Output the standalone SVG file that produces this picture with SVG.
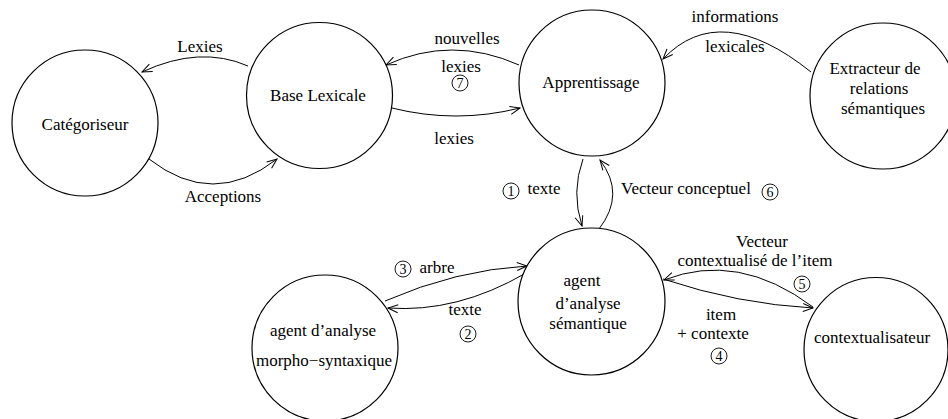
<svg xmlns="http://www.w3.org/2000/svg" width="948" height="419" viewBox="0 0 948 419">
<style>
.n{fill:#fff;stroke:#000;stroke-width:1.2}
.t{font-family:"Liberation Serif","Times New Roman",serif;font-size:17px;fill:#000;text-anchor:middle}
.c{fill:none;stroke:#000;stroke-width:1}
.k{fill:none;stroke:#000;stroke-width:0.9}
.d{font-family:"Liberation Serif","Times New Roman",serif;font-size:14px;fill:#000;text-anchor:middle}
</style>
<defs>
<marker id="a" markerUnits="userSpaceOnUse" markerWidth="14" markerHeight="12" refX="12" refY="6" orient="auto" overflow="visible">
<path d="M2,2 L12,6 L2,10" fill="none" stroke="#000" stroke-width="1"/>
</marker>
</defs>
<rect width="948" height="419" fill="#fff"/>
<g id="connectors">
<path class="c" d="M248,66 Q200,45 142,72" marker-end="url(#a)"/>
<path class="c" d="M149,159 Q213,209 277,159" marker-end="url(#a)"/>
<path class="c" d="M519,65 Q452,35 386,65" marker-end="url(#a)"/>
<path class="c" d="M392,108 Q456,124 520,108" marker-end="url(#a)"/>
<path class="c" d="M811,72 Q720,-1 663,59" marker-end="url(#a)"/>
<path class="c" d="M583,159 Q571,192 582,226" marker-end="url(#a)"/>
<path class="c" d="M599,229 Q626,194 600,160" marker-end="url(#a)"/>
<path class="c" d="M385,301 Q456,270 527,266" marker-end="url(#a)"/>
<path class="c" d="M526,273 Q457,313 388,308" marker-end="url(#a)"/>
<path class="c" d="M663,279 Q738,304 813,308" marker-end="url(#a)"/>
<path class="c" d="M813,307 Q738,251 664,280" marker-end="url(#a)"/>
<text class="t" x="200" y="52">Lexies</text>
<text class="t" x="223" y="202">Acceptions</text>
<text class="t" x="467" y="44">nouvelles</text>
<text class="t" x="461" y="72">lexies</text>
<circle class="k" cx="460" cy="83" r="8"/><text class="d" x="460" y="88">7</text>
<text class="t" x="454" y="144">lexies</text>
<text class="t" x="735" y="22">informations</text>
<text class="t" x="735" y="52">lexicales</text>
<circle class="k" cx="511" cy="191" r="8"/><text class="d" x="511" y="196">1</text>
<text class="t" x="544" y="194">texte</text>
<text class="t" x="686" y="194">Vecteur conceptuel</text>
<circle class="k" cx="770" cy="192" r="8"/><text class="d" x="770" y="197">6</text>
<circle class="k" cx="403" cy="269" r="8"/><text class="d" x="403" y="274">3</text>
<text class="t" x="437" y="273">arbre</text>
<text class="t" x="465" y="315">texte</text>
<circle class="k" cx="468" cy="334" r="8"/><text class="d" x="468" y="339">2</text>
<text class="t" x="762" y="247">Vecteur</text>
<text class="t" x="755" y="266">contextualisé de l’item</text>
<circle class="k" cx="802" cy="284" r="8"/><text class="d" x="802" y="289">5</text>
<text class="t" x="721" y="320">item</text>
<text class="t" x="713" y="339">+ contexte</text>
<circle class="k" cx="719" cy="356" r="8"/><text class="d" x="719" y="361">4</text>
</g>
<g id="categoriseur"><circle class="n" cx="85" cy="123" r="73"/><text class="t" x="85" y="130">Catégoriseur</text></g>
<g id="base-lexicale"><circle class="n" cx="319.5" cy="95.5" r="73"/><text class="t" x="318" y="101">Base Lexicale</text></g>
<g id="apprentissage"><circle class="n" cx="592" cy="83" r="73"/><text class="t" x="591" y="88">Apprentissage</text></g>
<g id="extracteur"><circle class="n" cx="883" cy="96" r="73"/><text class="t" x="875" y="74">Extracteur de</text><text class="t" x="879" y="94">relations</text><text class="t" x="883" y="114">sémantiques</text></g>
<g id="agent-semantique"><circle class="n" cx="591.5" cy="301.5" r="73.5"/><text class="t" x="582" y="286">agent</text><text class="t" x="588" y="309">d’analyse</text><text class="t" x="588" y="329">sémantique</text></g>
<g id="agent-morpho"><circle class="n" cx="325" cy="348" r="73"/><text class="t" x="323" y="336">agent d’analyse</text><text class="t" x="324" y="366">morpho−syntaxique</text></g>
<g id="contextualisateur"><circle class="n" cx="876" cy="349.5" r="72"/><text class="t" x="872" y="343">contextualisateur</text></g>
</svg>
